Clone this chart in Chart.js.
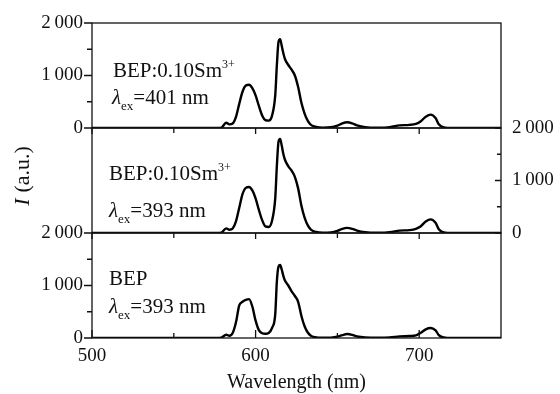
<!DOCTYPE html>
<html><head><meta charset="utf-8">
<script src="https://cdn.jsdelivr.net/npm/chart.js@4.4.1/dist/chart.umd.min.js"></script>
<style>
html,body{margin:0;padding:0;background:#fff;}
#wrap{position:relative;width:560px;height:394px;overflow:hidden;background:#fff;}
canvas{position:absolute;left:0;top:0;}
</style></head><body>
<div id="wrap">
<canvas id="c1" width="560" height="394"></canvas>
<canvas id="c2" width="560" height="394"></canvas>
<canvas id="c3" width="560" height="394"></canvas>
</div>
<script>
// ---- data ----
const wavelength = [500,540,570,576,579, 582,584,586,588,590, 592,594,596,598,600, 602,604,606,608,610, 612,613,614,615,616, 617,618,620,622,624, 626,628,630,632,634, 637,641,646,650,653, 656,659,662,667,675, 682,688,694,698,701, 704,707,710,712,715, 720,735,750];
const smEx401 = [0,0,0,0,5, 100,70,85,210,460, 690,810,825,760,620, 420,240,150,140,230, 620,1200,1640,1690,1560, 1420,1310,1200,1110,1000, 780,480,270,130,55, 20,8,15,45,90, 110,90,50,15,5, 15,50,60,80,130, 215,255,190,70,12, 0,0,0];
const smEx393 = [0,0,0,0,5, 88,62,85,220,480, 740,860,875,810,660, 440,245,125,115,230, 660,1280,1740,1790,1660, 1500,1390,1270,1190,1070, 850,520,290,140,60, 20,8,12,40,80, 97,80,45,15,5, 15,45,55,80,130, 220,260,195,70,12, 0,0,0];
const bepEx393 = [0,0,0,0,5, 62,42,95,300,620, 690,725,740,600,330, 150,90,80,95,190, 450,1080,1360,1390,1300, 1180,1090,1000,890,800, 690,420,220,100,40, 12,5,8,25,55, 75,60,30,10,5, 10,30,38,50,100, 165,190,145,55,10, 0,0,0];
const xTickLabels = [500, 600, 700];
const xMinorTicks = [550, 650];
const yTickLabels = [0, 1000, 2000];
const yMinorTicks = [500, 1500];
const sampleNames = ['BEP:0.10Sm', 'BEP:0.10Sm', 'BEP'];
const excitation = ['=401 nm', '=393 nm', '=393 nm'];

const SERIF = '"Liberation Serif", "Times New Roman", serif';
const fmt = v => { const s = String(v); return s.length > 3 ? s.slice(0, s.length-3) + '\u2009' + s.slice(-3) : s; };

function drawRich(ctx, x, y, parts) {
  let cx = x;
  for (const p of parts) {
    ctx.font = p.font;
    ctx.fillText(p.t, cx, y + (p.dy || 0));
    cx += ctx.measureText(p.t).width;
  }
}

const framePlugin = {
  id: 'frame',
  afterDraw(chart, args, o) {
    const {ctx, chartArea: a} = chart;
    const xs = chart.scales.x, ys = chart.scales.y;
    ctx.save();
    ctx.strokeStyle = '#111';
    ctx.lineWidth = 1.3;
    ctx.strokeRect(a.left, a.top, a.right - a.left, a.bottom - a.top);
    ctx.beginPath();
    const xt = (v, len) => {
      const px = xs.getPixelForValue(v);
      ctx.moveTo(px, a.bottom);
      ctx.lineTo(px, o.xDir === 'down' ? a.bottom + len : a.bottom - len);
    };
    xTickLabels.forEach(v => xt(v, o.xDir === 'down' ? 6 : 8));
    xMinorTicks.forEach(v => xt(v, 5));
    const bx = o.ySide === 'left' ? a.left : a.right;
    const yt = (v, len) => { const py = ys.getPixelForValue(v); ctx.moveTo(bx, py); ctx.lineTo(bx - len, py); };
    yTickLabels.forEach(v => yt(v, o.ySide === 'left' ? 8 : 6));
    yMinorTicks.forEach(v => yt(v, o.ySide === 'left' ? 5 : 4));
    ctx.stroke();

    ctx.fillStyle = '#111';
    ctx.textBaseline = 'alphabetic';
    ctx.textAlign = 'left';
    const t = o.text;
    const l1 = [{t: sampleNames[o.idx], font: '21px ' + SERIF}];
    if (o.sup) l1.push({t: '3+', font: '12px ' + SERIF, dy: -9});
    drawRich(ctx, t.x1, t.y1, l1);
    drawRich(ctx, t.x2, t.y2, [
      {t: '\u03BB', font: 'italic 21px ' + SERIF},
      {t: 'ex', font: '13px ' + SERIF, dy: 6},
      {t: excitation[o.idx], font: '21px ' + SERIF}
    ]);
    if (o.yTitle) {
      ctx.save();
      ctx.translate(22, 176);
      ctx.rotate(-Math.PI / 2);
      ctx.font = 'italic 22px ' + SERIF;
      const w1 = ctx.measureText('I').width;
      ctx.font = '22px ' + SERIF;
      const w2 = ctx.measureText('(a.u.)').width;
      const gap = 6;
      const total = w1 + gap + w2;
      ctx.textBaseline = 'middle';
      ctx.font = 'italic 22px ' + SERIF;
      ctx.fillText('I', -total / 2, 1);
      ctx.font = '22px ' + SERIF;
      ctx.fillText('(a.u.)', -total / 2 + w1 + gap, 1);
      ctx.restore();
    }
    ctx.restore();
  }
};

function makeChart(id, values, cfg) {
  const yAxis = {
    type: 'linear', position: cfg.ySide, min: 0, max: 2000,
    afterBuildTicks: s => { s.ticks = yTickLabels.map(v => ({value: v})); },
    ticks: {display: cfg.yLabels, autoSkip: false, callback: v => fmt(v), color: '#111', padding: cfg.ySide === 'left' ? 9 : 11,
            font: {family: SERIF, size: 19}},
    grid: {display: false, drawTicks: false},
    border: {display: false},
    afterFit: s => { s.width = cfg.ySide === 'left' ? 92 : 59; }
  };
  const xAxis = {
    type: 'linear', min: 500, max: 750, display: cfg.xLabels,
    afterBuildTicks: s => { s.ticks = xTickLabels.map(v => ({value: v})); },
    ticks: {color: '#111', padding: 7, font: {family: SERIF, size: 19}, maxRotation: 0, autoSkip: false},
    grid: {display: false, drawTicks: false},
    border: {display: false},
    title: {display: cfg.xLabels, text: 'Wavelength (nm)', color: '#111', font: {family: SERIF, size: 20}, padding: {top: 0, bottom: -1}}
  };
  if (cfg.xLabels) xAxis.afterFit = s => { s.height = 56; };
  return new Chart(document.getElementById(id), {
    type: 'line',
    data: {datasets: [{
      data: wavelength.map((w, i) => ({x: w, y: values[i]})),
      borderColor: '#000', borderWidth: 2.4, pointRadius: 0,
      cubicInterpolationMode: 'monotone', fill: false
    }]},
    options: {
      responsive: false, animation: false, events: [],
      layout: {padding: cfg.padding, autoPadding: false},
      plugins: {legend: {display: false}, tooltip: {enabled: false}, frame: cfg.frame},
      scales: {x: xAxis, y: yAxis}
    },
    plugins: [framePlugin]
  });
}

makeChart('c1', smEx401, {
  ySide: 'left', yLabels: true, xLabels: false,
  padding: {left: 0, right: 59, top: 23, bottom: 394 - 128},
  frame: {idx: 0, sup: true, xDir: 'down', ySide: 'left', text: {x1: 113, y1: 77, x2: 112, y2: 104}}
});
makeChart('c2', smEx393, {
  ySide: 'right', yLabels: true, xLabels: false,
  padding: {left: 92, right: 0, top: 128, bottom: 394 - 233},
  frame: {idx: 1, sup: true, xDir: 'down', ySide: 'right', yTitle: true, text: {x1: 109, y1: 180, x2: 109, y2: 217}}
});
makeChart('c3', bepEx393, {
  ySide: 'left', yLabels: true, xLabels: true,
  padding: {left: 0, right: 59, top: 233, bottom: 0},
  frame: {idx: 2, sup: false, xDir: 'up', ySide: 'left', text: {x1: 109, y1: 285, x2: 109, y2: 313}}
});
</script>
</body></html>
